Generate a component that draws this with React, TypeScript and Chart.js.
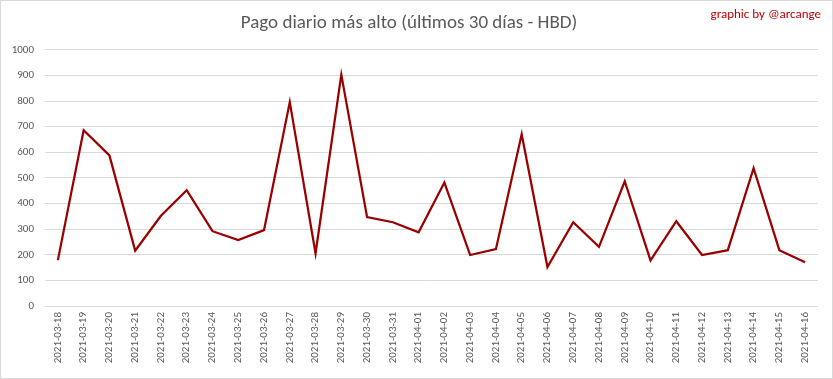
import React, { useEffect, useRef } from "react";
import { Chart, registerables } from "chart.js";

Chart.register(...registerables);

const dates = [
  "2021-03-18", "2021-03-19", "2021-03-20", "2021-03-21", "2021-03-22", "2021-03-23",
  "2021-03-24", "2021-03-25", "2021-03-26", "2021-03-27", "2021-03-28", "2021-03-29",
  "2021-03-30", "2021-03-31", "2021-04-01", "2021-04-02", "2021-04-03", "2021-04-04",
  "2021-04-05", "2021-04-06", "2021-04-07", "2021-04-08", "2021-04-09", "2021-04-10",
  "2021-04-11", "2021-04-12", "2021-04-13", "2021-04-14", "2021-04-15", "2021-04-16",
];

const maxPayout = [
  179, 686, 588, 216, 352, 452, 292, 257, 296, 796, 205, 903, 347, 327, 288,
  482, 199, 222, 670, 152, 327, 231, 487, 178, 331, 199, 218, 538, 218, 171,
];

const titleText = "Pago diario más alto (últimos 30 días - HBD)";
const creditText = "graphic by @arcange";

const FONT = "Carlito, Calibri, Lato, 'Open Sans', sans-serif";

export default function App() {
  const ref = useRef<HTMLCanvasElement | null>(null);

  useEffect(() => {
    document.body.style.margin = "0";
    const canvas = ref.current;
    if (!canvas) return;

    const decor = {
      id: "decor",
      afterDraw(chart: any) {
        const ctx = chart.ctx;
        ctx.save();
        ctx.strokeStyle = "#d9d9d9";
        ctx.lineWidth = 1;
        ctx.strokeRect(0.5, 0.5, chart.width - 1, chart.height - 1);
        ctx.fillStyle = "#c00000";
        ctx.font = `13px ${FONT}`;
        ctx.textAlign = "right";
        ctx.textBaseline = "middle";
        ctx.fillText(creditText, 821, 15);
        ctx.restore();
      },
    };

    const chart = new Chart(canvas, {
      type: "line",
      data: {
        labels: dates,
        datasets: [
          {
            data: maxPayout,
            borderColor: "#990000",
            backgroundColor: "#990000",
            borderWidth: 2.25,
            pointRadius: 0,
            tension: 0,
            fill: false,
          },
        ],
      },
      options: {
        animation: false,
        responsive: false,
        maintainAspectRatio: false,
        layout: { padding: { left: 0, right: 15, top: 0, bottom: 0 } },
        plugins: {
          legend: { display: false },
          tooltip: { enabled: false },
          title: {
            display: true,
            text: titleText,
            color: "#595959",
            font: { family: FONT, size: 19, weight: "normal" },
            padding: { top: 12, bottom: 15 },
          },
        },
        scales: {
          x: {
            offset: true,
            grid: { display: false, drawTicks: false },
            border: { display: false },
            ticks: {
              color: "#595959",
              font: { family: FONT, size: 11 },
              maxRotation: 90,
              minRotation: 90,
              autoSkip: false,
              padding: 6,
            },
            afterFit(scale: any) {
              scale.height = 73;
            },
          },
          y: {
            min: 0,
            max: 1000,
            grid: { color: "#d9d9d9", drawTicks: false, lineWidth: 1 },
            border: { display: false },
            ticks: {
              stepSize: 100,
              color: "#595959",
              font: { family: FONT, size: 11 },
              padding: 11,
              callback: (v: any) => String(v),
            },
            afterFit(scale: any) {
              scale.width = 45;
            },
          },
        },
      },
      plugins: [decor],
    });

    return () => chart.destroy();
  }, []);

  return (
    <div style={{ width: 833, height: 379 }}>
      <canvas ref={ref} width={833} height={379} style={{ display: "block" }} />
    </div>
  );
}
